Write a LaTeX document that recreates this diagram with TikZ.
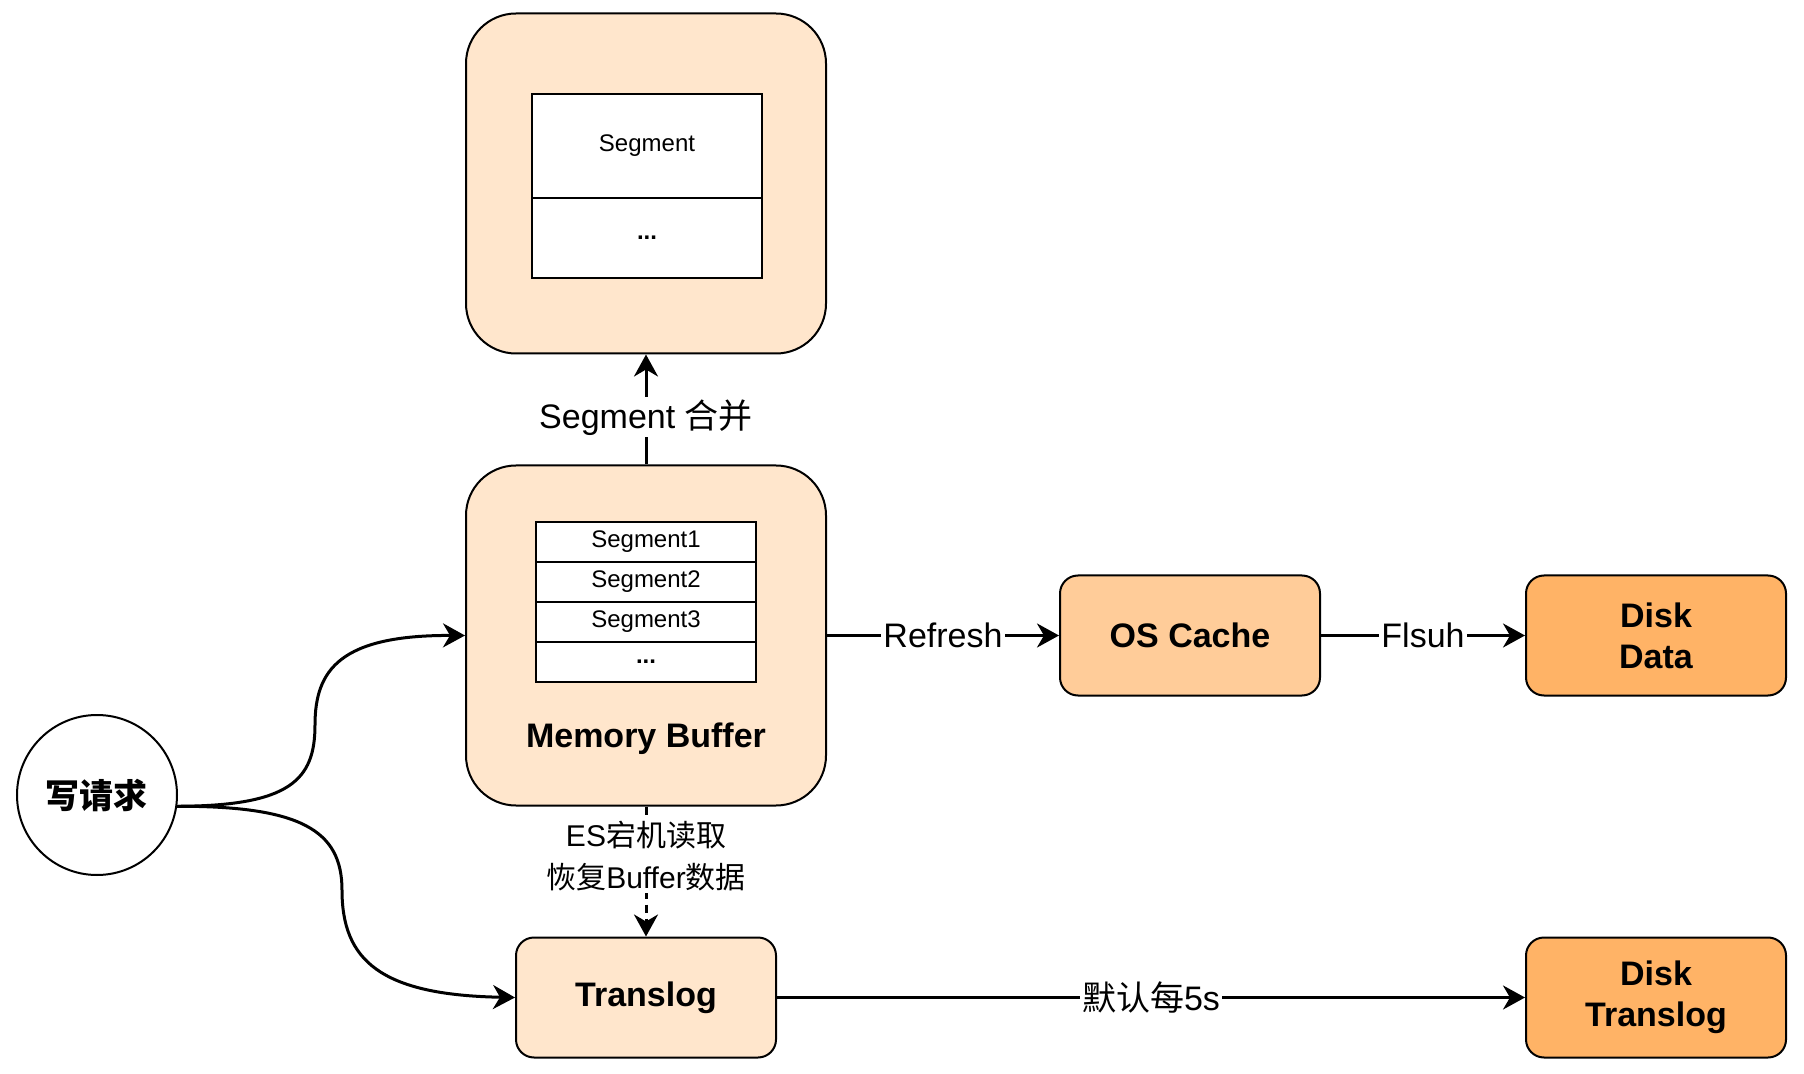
\documentclass[tikz,border=0pt]{standalone}
\usepackage{fontspec}
\setmainfont{Liberation Sans}
\newfontfamily\cjk{Noto Sans CJK SC}
\usetikzlibrary{positioning,arrows.meta}
\definecolor{bufcol}{HTML}{FFE6CC}
\definecolor{cachecol}{HTML}{FFCC99}
\definecolor{diskcol}{HTML}{FFB366}

\begin{document}
\begin{tikzpicture}[x=0.5pt, y=-0.5pt, >={Stealth[length=11pt,width=12pt,inset=3.5pt]},
  big box/.style={draw, line width=1pt, rounded corners=25pt, fill=bufcol, minimum width=180pt, minimum height=170pt, inner sep=0pt},
  small box/.style={draw, line width=1pt, rounded corners=9pt, fill=bufcol, minimum width=130pt, minimum height=60pt, align=center, font=\fontsize{17}{20.5}\selectfont\bfseries},
  cell/.style={draw, line width=1pt, fill=white, outer sep=0pt, inner sep=0pt, minimum width=110pt, minimum height=20pt, font=\fontsize{12}{14}\selectfont},
  edge lbl/.style={fill=white, inner sep=1pt, font=\fontsize{17}{20}\selectfont}]
        \tikzstyle{every path}=[line width=1.5pt]
        \useasboundingbox (0,0) rectangle (1804,1074);

          \node[big box] (membuf) at (646,635.5) {};
          \node[big box] (segbox) [above=55pt of membuf] {};
          \node[small box] (translog) [below=65pt of membuf] {Translog};
          \node[small box, fill=cachecol] (oscache) [right=116pt of membuf] {OS Cache};
          \node[small box, fill=diskcol] (diskdata) [right=102pt of oscache] {Disk\\Data};
          \node[small box, fill=diskcol] (disktrans) [below=120pt of diskdata] {Disk\\Translog};
          \node[draw, circle, line width=1pt, minimum size=80pt, font=\fontsize{17}{20}\selectfont\cjk\bfseries] (req) at (97,795) {写请求};

          % segments
          \node[cell, minimum width=115pt, minimum height=52pt] (seg) at (647,146) {Segment};
          \node[cell, minimum width=115pt, minimum height=40pt] (segmore) [below=0pt of seg] {\textbf{...}};
          \node[cell] (seg1) at (646,542) {Segment1};
          \node[cell] (seg2) [below=0pt of seg1] {Segment2};
          \node[cell] (seg3) [below=0pt of seg2] {Segment3};
          \node[cell] (segdots) [below=0pt of seg3] {\textbf{...}};
          \node[font=\fontsize{17}{20}\selectfont\bfseries] (memlbl) at (646,739) {Memory Buffer};

          \draw[->] (membuf) -- node[edge lbl, pos=0.43] {Segment {\cjk 合并}} (segbox);
          \draw[->, dash pattern=on 4pt off 3pt] (membuf) -- node[edge lbl, pos=0.38, align=center, font=\fontsize{15}{21}\selectfont] {ES{\cjk 宕机读取}\\{\cjk 恢复}Buffer{\cjk 数据}} (translog);
          \draw[->] (membuf) -- node[edge lbl] {Refresh} (oscache);
          \draw[->] (oscache) -- node[edge lbl] {Flsuh} (diskdata);
          \draw[->] (translog) -- node[edge lbl] {{\cjk 默认每}5s} (disktrans);
          \draw[->] (req.352) .. controls (290,806) and (315,780) .. (315,725) .. controls (315,670) and (340,635) .. (membuf.west);
          \draw[->] (req.352) .. controls (300,806) and (342,830) .. (342,890) .. controls (342,960) and (380,995) .. (translog.west);

        \end{tikzpicture}
\end{document}
